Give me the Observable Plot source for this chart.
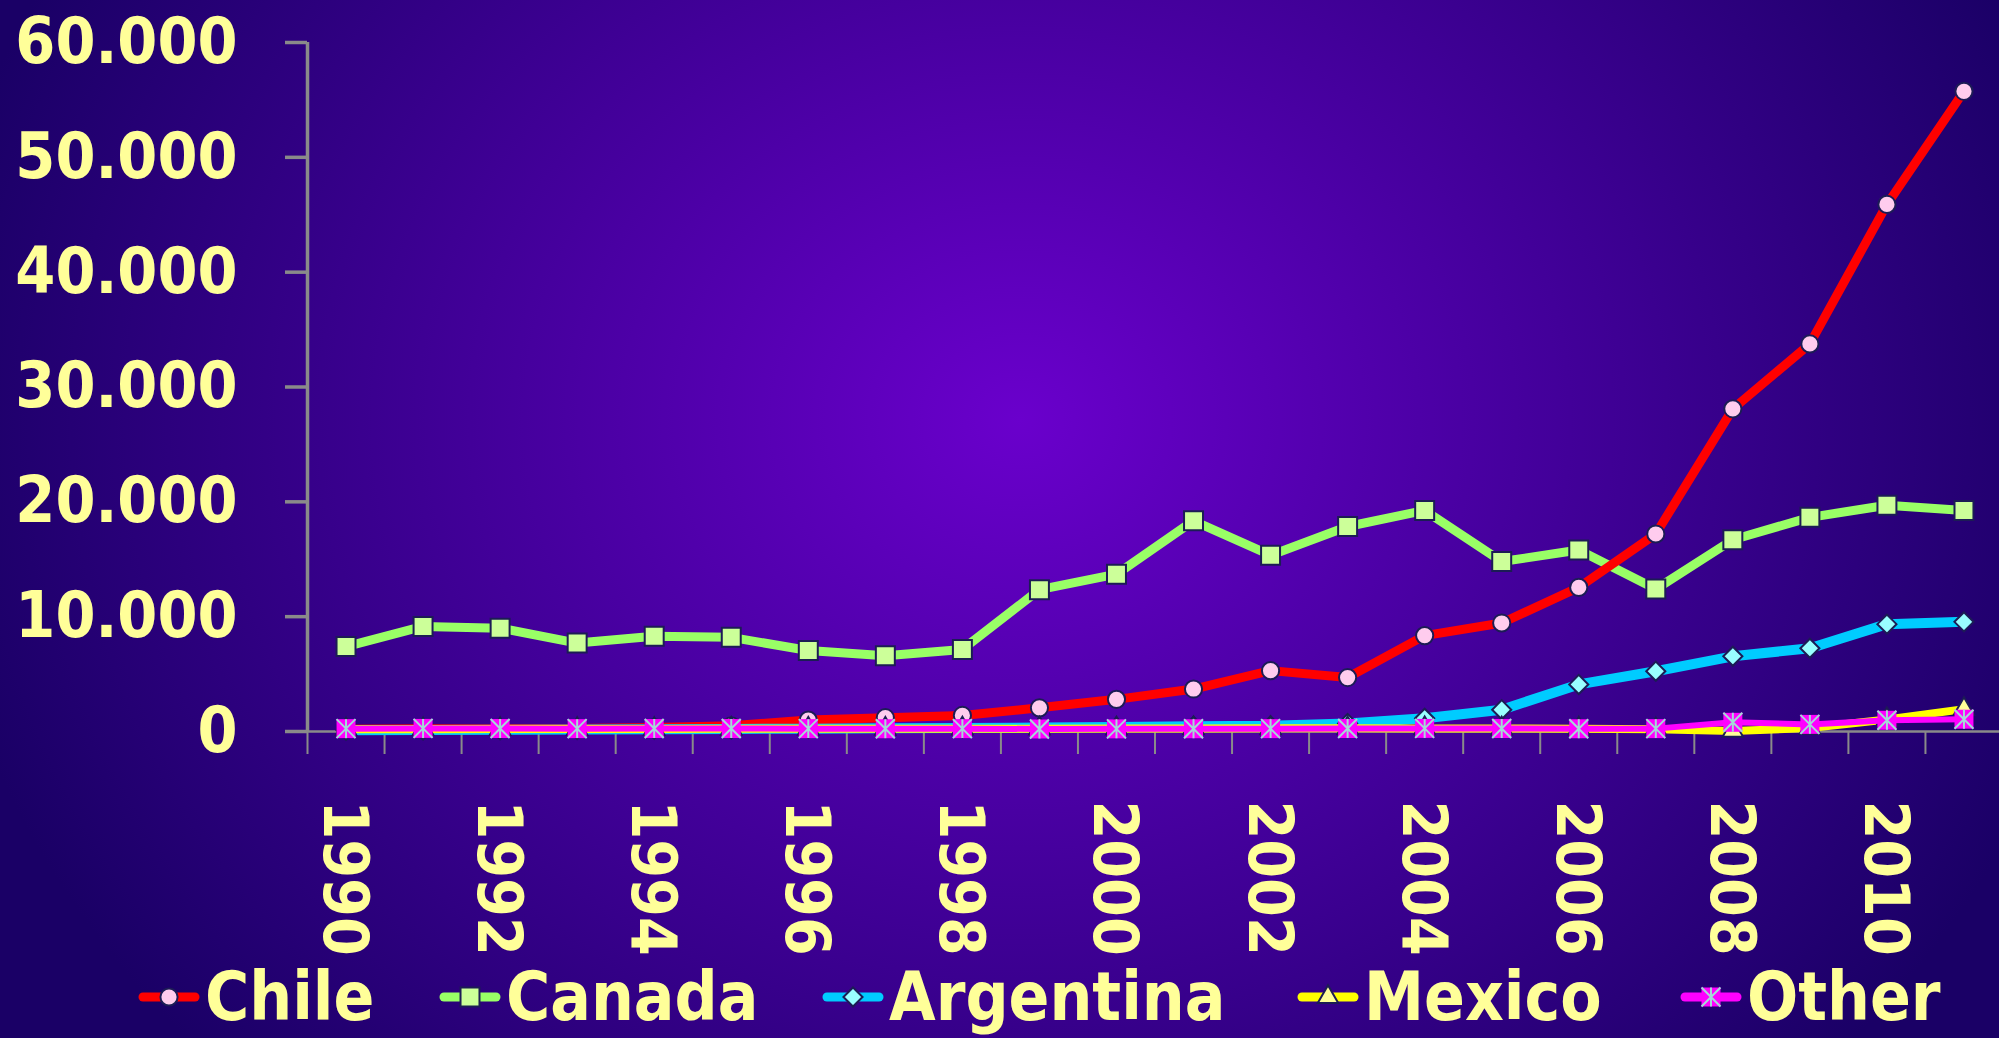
<!DOCTYPE html>
<html>
<head>
<meta charset="utf-8">
<script src="https://cdn.jsdelivr.net/npm/d3@7"></script>
<script src="https://cdn.jsdelivr.net/npm/@observablehq/plot@0.6"></script>
<style>
html, body { margin: 0; padding: 0; }
body {
  width: 1999px; height: 1038px; overflow: hidden; position: relative;
  background: radial-gradient(ellipse 1100px 950px at 1020px 420px, #6a00cc 0%, #1a0066 100%);
  background-color: #1a0066;
}
#chart { position: absolute; left: 0; top: 0; }
#chart svg { display: block; overflow: visible; }
svg text { font-stretch: condensed; }
#legend {
  position: absolute; left: 0; top: 958px; width: 1999px; height: 78px;
  font-family: "DejaVu Sans Condensed", "DejaVu Sans", sans-serif; font-stretch: condensed;
  font-weight: bold; font-size: 67px; line-height: 1; color: #ffff99;
}
.item { position: absolute; top: 0; height: 78px; display: flex; align-items: center; white-space: nowrap; }
.item svg { display: block; margin-right: 4px; }
</style>
</head>
<body>
<div id="chart"></div>
<div id="legend"></div>
<script>
// ---- data ----
const years = [1990, 1991, 1992, 1993, 1994, 1995, 1996, 1997, 1998, 1999, 2000,
               2001, 2002, 2003, 2004, 2005, 2006, 2007, 2008, 2009, 2010, 2011];
const chile     = [200, 230, 250, 270, 350, 500, 1000, 1200, 1400, 2060, 2800,
                   3700, 5300, 4700, 8350, 9450, 12550, 17200, 28100, 33750, 45900, 55750];
const canada    = [7400, 9150, 9000, 7700, 8300, 8200, 7050, 6600, 7150, 12350, 13700,
                   18350, 15350, 17850, 19250, 14800, 15800, 12400, 16700, 18650, 19700, 19250];
const argentina = [100, 120, 150, 180, 200, 220, 250, 280, 300, 350, 400,
                   450, 500, 700, 1150, 1900, 4100, 5250, 6550, 7250, 9350, 9550];
const mexico    = [200, 200, 210, 220, 220, 230, 240, 240, 250, 250, 260,
                   270, 280, 280, 270, 260, 250, 200, 50, 300, 1050, 1950];
const other     = [250, 270, 260, 250, 260, 260, 250, 240, 250, 220, 230,
                   240, 250, 260, 270, 260, 240, 250, 800, 620, 980, 1070];
const seriesNames = ["Chile", "Canada", "Argentina", "Mexico", "Other"];
const yTicks = [0, 10000, 20000, 30000, 40000, 50000, 60000];
const yearLabels = [1990, 1992, 1994, 1996, 1998, 2000, 2002, 2004, 2006, 2008, 2010];

// ---- styles / layout ----
const lineColors  = {Chile: "#ff0000", Canada: "#99ff66", Argentina: "#00ccff", Mexico: "#ffff00", Other: "#ff00ff"};
const markerFills = {Chile: "#ffccee", Canada: "#ccff99", Argentina: "#99ffff", Mexico: "#ffff99", Other: "#ff00ff"};
const lineWidths  = {Chile: 9, Canada: 9, Argentina: 10, Mexico: 8, Other: 6};
const markerR     = {Chile: 8.6, Canada: 10.7, Argentina: 8.6, Mexico: 7.6, Other: 10.7};
const legendLeft  = {Chile: 137, Canada: 438, Argentina: 821, Mexico: 1296, Other: 1679};
const outline = "#1c1c55";
const axisGray = "#8a8a8a";
const textColor = "#ffff99";
const font = "'DejaVu Sans Condensed', 'DejaVu Sans', sans-serif";

// asterisk (X + vertical bar) used for "Other"
const asteriskSym = {
  draw(ctx, size) {
    const s = Math.sqrt(size) / 2;
    ctx.moveTo(-s, -s); ctx.lineTo(s, s);
    ctx.moveTo(s, -s); ctx.lineTo(-s, s);
    ctx.moveTo(0, -s); ctx.lineTo(0, s);
  }
};
const symbols = {Chile: "circle", Canada: "square", Argentina: "diamond2", Mexico: "triangle", Other: "square"};
const d3Symbols = {circle: d3.symbolCircle, square: d3.symbolSquare, diamond2: d3.symbolDiamond2, triangle: d3.symbolTriangle};

const valuesByName = {Chile: chile, Canada: canada, Argentina: argentina, Mexico: mexico, Other: other};
const seriesRows = name => years.map((year, i) => ({name, year, value: valuesByName[name][i]}));

const fmt = d3.formatLocale({decimal: ",", thousands: ".", grouping: [3], currency: ["", ""]}).format(",");

function seriesMarks(name) {
  const data = seriesRows(name);
  const marks = [
    Plot.line(data, {x: "year", y: "value", stroke: lineColors[name], strokeWidth: lineWidths[name],
                     strokeLinejoin: "round", strokeLinecap: "butt"})
  ];
  if (name === "Other") {
    marks.push(Plot.dot(data, {x: "year", y: "value", symbol: "square", r: markerR[name], fill: markerFills[name], stroke: "none"}));
    marks.push(Plot.dot(data, {x: "year", y: "value", symbol: asteriskSym, r: markerR[name], fill: "none", stroke: "#a6d8d8", strokeWidth: 2}));
  } else {
    marks.push(Plot.dot(data, {x: "year", y: "value", symbol: symbols[name], r: markerR[name],
                               fill: markerFills[name], stroke: outline, strokeWidth: 2}));
  }
  return marks;
}

const drawOrder = ["Canada", "Chile", "Argentina", "Mexico", "Other"];
const boundaries = years.map(y => y - 0.5).concat([years[years.length - 1] + 0.5]);

const chart = Plot.plot({
  width: 1999, height: 958,
  marginLeft: 307, marginRight: 0, marginTop: 42, marginBottom: 227,
  style: {background: "transparent", overflow: "visible"},
  x: {domain: [1989.5, 2011.5], range: [307, 2002], axis: null},
  y: {domain: [0, 60000], axis: null},
  marks: [
    Plot.axisX({ticks: boundaries, tickSize: 23, tickFormat: () => "", label: null, stroke: axisGray, strokeWidth: 2}),
    Plot.ruleY([0], {stroke: axisGray, strokeWidth: 2.5}),
    Plot.axisY({ticks: yTicks, tickSize: 22, tickFormat: () => "", label: null, stroke: axisGray, strokeWidth: 3.5}),
    Plot.ruleX([1989.5], {stroke: axisGray, strokeWidth: 3.5}),
    Plot.text(yTicks, {y: d => d, text: d => fmt(d), frameAnchor: "left", textAnchor: "end", dx: -70,
                       fill: textColor, fontSize: 64, fontWeight: "bold", fontFamily: font}),
    Plot.text(yearLabels, {x: d => d, text: d => String(d), frameAnchor: "bottom", rotate: 90, textAnchor: "start",
                           dx: -22, dy: 69, fill: textColor, fontSize: 62, fontWeight: "bold", fontFamily: font}),
    ...drawOrder.flatMap(seriesMarks)
  ]
});
document.getElementById("chart").appendChild(chart);

// ---- legend ----
const legend = d3.select("#legend");
seriesNames.forEach(name => {
  const item = legend.append("div").attr("class", "item").style("left", legendLeft[name] + "px");
  const sw = item.append("svg").attr("width", 64).attr("height", 30);
  sw.append("line").attr("x1", 6).attr("x2", 58).attr("y1", 15).attr("y2", 15)
    .attr("stroke", lineColors[name]).attr("stroke-width", 9).attr("stroke-linecap", "round");
  const size = markerR[name] * markerR[name] * Math.PI;
  const g = sw.append("g").attr("transform", "translate(32,15)");
  if (name === "Other") {
    g.append("path").attr("d", d3.symbol(d3.symbolSquare, size)()).attr("fill", markerFills[name]);
    g.append("path").attr("d", d3.symbol(asteriskSym, size)()).attr("fill", "none").attr("stroke", "#a6d8d8").attr("stroke-width", 2);
  } else {
    g.append("path").attr("d", d3.symbol(d3Symbols[symbols[name]], size)())
      .attr("fill", markerFills[name]).attr("stroke", outline).attr("stroke-width", 2);
  }
  item.append("span").text(name);
});
</script>
</body>
</html>
